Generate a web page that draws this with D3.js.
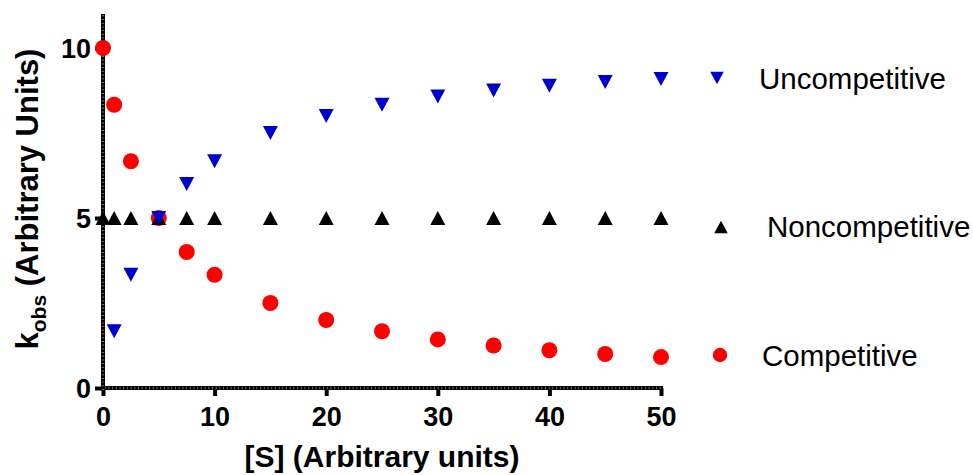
<!DOCTYPE html>
<html>
<head>
<meta charset="utf-8">
<script src="https://cdn.jsdelivr.net/npm/d3@7"></script>
<style>
  body { margin: 0; background: #fff; }
  text { font-family: "Liberation Sans", Arial, sans-serif; }
</style>
</head>
<body>
<script>
// substrate concentrations
var sValues = [0, 1, 2.5, 5, 7.5, 10, 15, 20, 25, 30, 35, 40, 45, 50];

// k_obs
var competitive    = [10, 8.33, 6.67, 5, 4, 3.33, 2.5, 2, 1.67, 1.43, 1.25, 1.11, 1.0, 0.91];
var noncompetitive = [5, 5, 5, 5, 5, 5, 5, 5, 5, 5, 5, 5, 5, 5];
var uncompetitive  = [null, 1.67, 3.33, 5, 6, 6.67, 7.5, 8, 8.33, 8.57, 8.75, 8.89, 9, 9.09];

var xTicks = [0, 10, 20, 30, 40, 50];
var yTicks = [0, 5, 10];

var width = 973, height = 475;

var svg = d3.select('body').append('svg')
  .attr('width', width)
  .attr('height', height);

var x = d3.scaleLinear().domain([0, 50]).range([103, 661]);
var y = d3.scaleLinear().domain([0, 11]).range([388, 14]);

// axes
function drawAxis(x1, y1, x2, y2) {
  svg.append('line')
    .attr('x1', x1).attr('y1', y1).attr('x2', x2).attr('y2', y2)
    .style('stroke', '#000').style('stroke-width', 4);
  // minor ticks show up as thin light stripes across the thick line
  svg.append('line')
    .attr('x1', x1).attr('y1', y1).attr('x2', x2).attr('y2', y2)
    .style('stroke', '#fff').style('stroke-opacity', 0.45)
    .style('stroke-width', 2.5)
    .style('stroke-dasharray', '1,2.7');
}

var xAxis = d3.axisBottom(x).tickValues(xTicks).tickSize(8).tickPadding(11).tickFormat(d3.format('d'));
var yAxis = d3.axisLeft(y).tickValues(yTicks).tickSize(8).tickPadding(4).tickFormat(d3.format('d'));

var gx = svg.append('g').attr('transform', 'translate(0,' + y(0) + ')').call(xAxis);
var gy = svg.append('g').attr('transform', 'translate(' + x(0) + ',0)').call(yAxis);

[gx, gy].forEach(function(g) {
  g.select('.domain').remove();
  g.selectAll('.tick line').style('stroke', '#000').style('stroke-width', 4);
  g.selectAll('.tick text')
    .style('font-size', '27px')
    .style('font-weight', 'bold')
    .style('fill', '#000');
});
gy.selectAll('.tick text').attr('dy', '0.36em');

drawAxis(x(0) - 2, y(0), x(50) + 2, y(0));
drawAxis(x(0), y(0) + 2, x(0), y(11));

// axis titles
svg.append('text')
  .attr('x', 382)
  .attr('y', 467)
  .attr('text-anchor', 'middle')
  .style('font-size', '30px')
  .style('font-weight', 'bold')
  .text('[S] (Arbitrary units)');

var yTitle = svg.append('text')
  .attr('transform', 'translate(38,199) rotate(-90)')
  .attr('text-anchor', 'middle')
  .style('font-size', '31px')
  .style('font-weight', 'bold');
yTitle.append('tspan').text('k');
yTitle.append('tspan').attr('dy', 8).style('font-size', '21px').text('obs');
yTitle.append('tspan').attr('dy', -8).text(' (Arbitrary Units)');

// series
var series = [
  { name: 'Competitive',    values: competitive,    shape: 'circle',   color: '#ff0000', legend: [720, 355], text: [762, 366] },
  { name: 'Noncompetitive', values: noncompetitive, shape: 'up',       color: '#000000', legend: [721, 227], text: [767, 237] },
  { name: 'Uncompetitive',  values: uncompetitive,  shape: 'down',     color: '#0000cc', legend: [717, 78],  text: [759, 89] }
];

function addMarker(g, shape, color, cx, cy, k) {
  if (shape === 'circle') {
    g.append('circle')
      .attr('cx', cx).attr('cy', cy).attr('r', 8 * k)
      .style('fill', color);
  } else {
    var w = 15 * k, h = 14 * k;
    var pts = shape === 'up'
      ? [[cx - w / 2, cy + h / 2], [cx + w / 2, cy + h / 2], [cx, cy - h / 2]]
      : [[cx - w / 2, cy - h / 2], [cx + w / 2, cy - h / 2], [cx, cy + h / 2]];
    g.append('path')
      .attr('d', d3.line()(pts) + 'Z')
      .style('fill', color);
  }
}

series.forEach(function(s) {
  var g = svg.append('g').attr('class', 'series');
  s.values.forEach(function(v, i) {
    if (v === null) return;
    addMarker(g, s.shape, s.color, x(sValues[i]), y(v), 1);
  });
  // legend
  addMarker(g, s.shape, s.color, s.legend[0], s.legend[1], 0.9);
  svg.append('text')
    .attr('x', s.text[0]).attr('y', s.text[1])
    .style('font-size', '29.5px')
    .text(s.name);
});
</script>
</body>
</html>
